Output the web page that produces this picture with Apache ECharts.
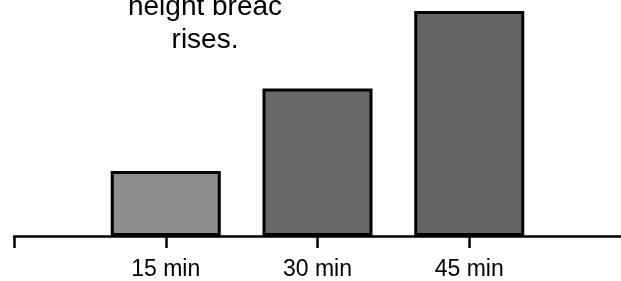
<!DOCTYPE html>
<html>
<head>
<meta charset="utf-8">
<script src="https://cdn.jsdelivr.net/npm/echarts@6/dist/echarts.min.js"></script>
<style>
  html, body { margin: 0; padding: 0; background: #fff; }
  #main { width: 621px; height: 281px; }
</style>
</head>
<body>
<div id="main"></div>
<script>
var myChart = echarts.init(document.getElementById('main'));

// data
var categories = ['15 min', '30 min', '45 min'];
var heights = [2.6, 5.9, 9.0];
var barColors = ['#8e8e8e', '#686868', '#646464'];
var titleText = 'height breac\nrises.';

var option = {
    backgroundColor: '#fff',
    animation: false,
    title: {
        text: titleText,
        left: 200,
        top: -14,
        textAlign: 'center',
        textStyle: {
            fontFamily: 'Liberation Sans',
            fontSize: 28,
            fontWeight: 'normal',
            color: '#000',
            lineHeight: 33,
            align: 'center'
        }
    },
    grid: {
        left: 14,
        right: 0,
        top: 11,
        bottom: 45
    },
    xAxis: {
        type: 'value',
        min: 0,
        max: 4,
        interval: 1,
        splitLine: { show: false },
        axisLine: { show: true, lineStyle: { color: '#000', width: 2.5 } },
        axisTick: {
            show: true,
            length: 12,
            customValues: [0, 1, 2, 3],
            lineStyle: { color: '#000', width: 2.5 }
        },
        axisLabel: {
            margin: 22,
            customValues: [1, 2, 3],
            fontFamily: 'Liberation Sans',
            fontSize: 23,
            color: '#000',
            formatter: function (v) {
                return categories[v - 1] || '';
            }
        }
    },
    yAxis: {
        type: 'value',
        min: 0,
        max: 9,
        show: false
    },
    series: [{
        type: 'bar',
        barWidth: 110,
        data: categories.map(function (c, i) {
            return {
                value: [i + 1, heights[i]],
                itemStyle: { color: barColors[i] }
            };
        }),
        itemStyle: {
            borderColor: '#000',
            borderWidth: 3
        }
    }]
};

myChart.setOption(option);
</script>
</body>
</html>
